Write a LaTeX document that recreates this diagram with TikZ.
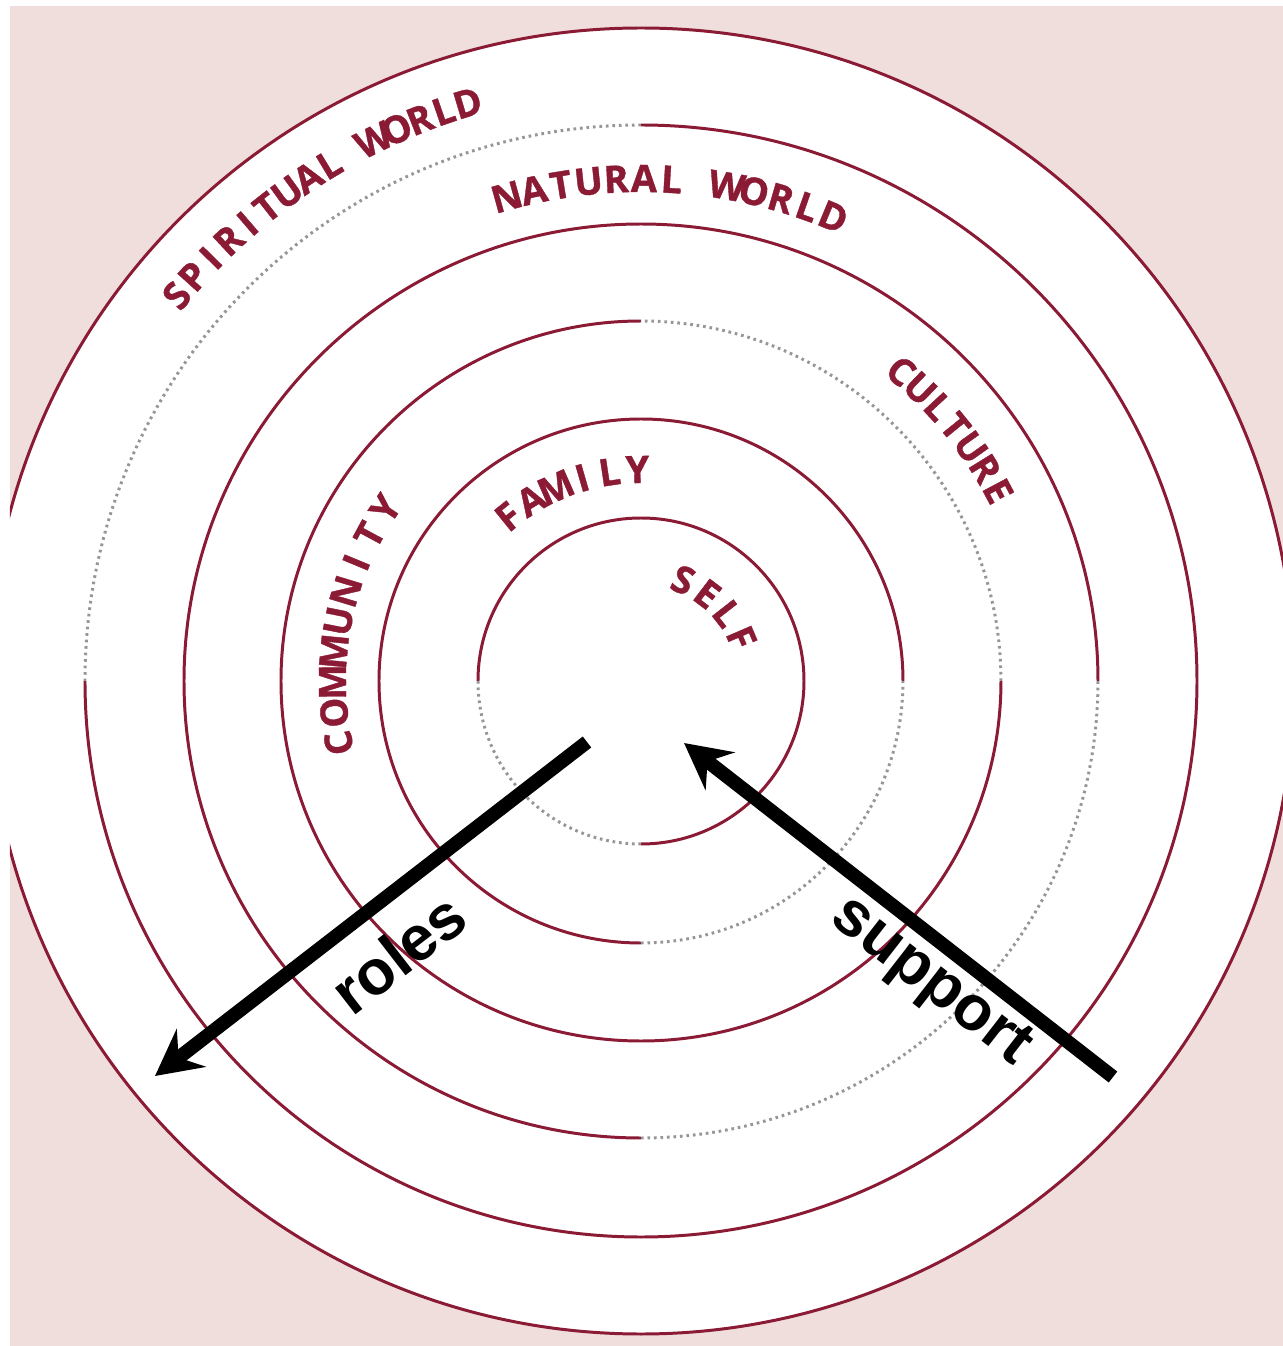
\documentclass[tikz,border=0pt]{standalone}
\usepackage{fontspec}
\usetikzlibrary{arrows.meta}
\newfontfamily\ringfont[BoldFeatures={FakeBold=1}]{Open Sans}
\newfontfamily\arrowfont{Liberation Sans}
\definecolor{ringred}{RGB}{139,26,52}
\definecolor{bgpink}{RGB}{240,222,221}
\definecolor{dotgray}{RGB}{150,150,150}
\newlength\ctw \newlength\ctcum \newlength\cttot
\newlength\ctfirst \newlength\ctlast \newlength\cttrack
\newcount\ctn
\newcommand\ringletters{\ringfont\bfseries\fontsize{21.5}{24}\selectfont}
% #1 name, #2 baseline radius, #3 angle of first letter, #4 angle of last letter, #5 letters
\newcommand\curvetext[5]{%
  \global\cttot=0pt
  \global\ctn=0
  \foreach \ch [count=\ci] in {#5}{%
    \settowidth\ctw{\ringletters\ch}%
    \ifnum\ci=1 \global\ctfirst=\ctw\fi
    \global\ctlast=\ctw
    \global\advance\cttot by \ctw
    \global\ctn=\ci\relax}%
  \pgfmathsetmacro\ctR{#2*0.569055}%
  \pgfmathsetlength\cttrack{((#3-#4)/57.29578*\ctR - (\cttot - \ctfirst/2 - \ctlast/2))/(\the\ctn-1)}%
  \global\ctcum=0pt
  \foreach \ch [count=\ci] in {#5}{%
    \settowidth\ctw{\ringletters\ch}%
    \pgfmathsetmacro\ctang{#3 - (\ctcum + \ctw/2 - \ctfirst/2)/\ctR*57.29578}%
    \node[ringlabel, rotate=\ctang-90] (#1-\ci) at (\ctang:#2) {\ch};
    \global\advance\ctcum by \ctw
    \global\advance\ctcum by \cttrack}%
}
\begin{document}
\begin{tikzpicture}[x=0.02cm,y=0.02cm,
  ring/.style={draw=ringred, line width=1.7pt},
  dotring/.style={draw=dotgray, line width=1.7pt, line cap=butt, dash pattern=on 1.5pt off 2.2pt},
  ringlabel/.style={inner sep=0pt, anchor=base, font=\ringletters, text=ringred},
  bigarrow/.style={line width=7.9pt, -{Stealth[length=26pt,width=27pt,inset=9pt]}},
  armlabel/.style={font=\arrowfont\bfseries\fontsize{36}{40}\selectfont, inner sep=0pt}]
\useasboundingbox (-641,-665) rectangle (642,681);
\fill[white] (-641,-665) rectangle (642,681);
\begin{scope}
  \clip (-631,-665) rectangle (642,675);
  \fill[bgpink] (-631,-665) rectangle (642,675);
  \filldraw[ring, fill=white] (0,0) circle (653);
\end{scope}
% spiritual world inner boundary
\draw[ring] (180:556) arc (180:450:556);
\draw[dotring] (90:556) arc (90:180:556);
% natural world inner boundary
\draw[ring] (0:457) arc (0:270:457);
\draw[dotring] (270:457) arc (270:360:457);
% culture inner boundary
\draw[ring] (90:360) arc (90:360:360);
\draw[dotring] (0:360) arc (0:90:360);
% community inner boundary
\draw[ring] (0:262) arc (0:270:262);
\draw[dotring] (270:262) arc (270:360:262);
% family inner boundary (self circle)
\draw[ring] (270:163) arc (270:540:163);
\draw[dotring] (180:163) arc (180:270:163);
% curved labels
\curvetext{spirit}{590}{140.3}{106.7}{S,P,I,R,I,T,U,A,L,\ ,W,O,R,L,D}
\curvetext{natural}{489}{105.5}{67.5}{N,A,T,U,R,A,L,\ ,W,O,R,L,D}
\curvetext{culture}{391}{50}{28}{C,U,L,T,U,R,E}
\curvetext{community}{295}{191.6}{146}{C,O,M,M,U,N,I,T,Y}
\curvetext{family}{198}{128.9}{91}{F,A,M,I,L,Y}
\curvetext{self}{96}{67.4}{23.3}{S,E,L,F}
% arrows
\coordinate (rolesStart) at (-54,-61);
\coordinate (rolesTip) at (-486,-395);
\coordinate (supportStart) at (472,-396);
\coordinate (supportTip) at (43,-62);
\draw[bigarrow] (rolesStart) -- (rolesTip);
\draw[bigarrow] (supportStart) -- (supportTip);
\node[armlabel, rotate=37.7] (roleslbl) at (-243,-272) {roles};
\node[armlabel, rotate=-37.9] (supportlbl) at (289,-302) {support};
\end{tikzpicture}
\end{document}
